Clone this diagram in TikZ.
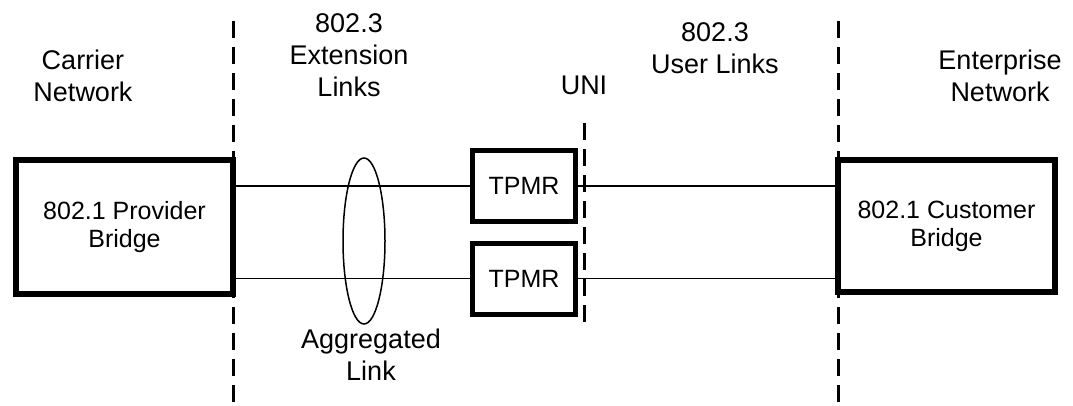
\documentclass[tikz,border=0pt]{standalone}
\usepackage{fontspec}
\setmainfont{Liberation Sans}
\usetikzlibrary{shapes.geometric}
\begin{document}
\begin{tikzpicture}[x=1pt,y=-1pt,
  bigbox/.style={draw, line width=5.5pt, inner sep=0pt, align=center,
    font=\fontsize{25}{28}\selectfont},
  smallbox/.style={draw, line width=5pt, inner sep=0pt, align=center,
    minimum width=103pt, minimum height=71pt,
    font=\fontsize{25}{28}\selectfont},
  label/.style={inner sep=0pt, outer sep=0pt, align=center, anchor=north,
    font=\fontsize{27}{32}\selectfont},
  link/.style={line width=1.5pt},
  divider/.style={line width=3pt, dash pattern=on 17pt off 9pt},
]
\useasboundingbox (0,0) rectangle (1073,405);

% boxes
\node[bigbox, minimum width=217pt, minimum height=134pt] (lpb) at (124.5,227) {802.1 Provider\\Bridge};
\node[bigbox, minimum width=217pt, minimum height=132pt] (rcb) at (946.5,226) {802.1 Customer\\Bridge};
\node[smallbox] (tp1) at (524,186) {TPMR};
\node[smallbox] (tp2) at (524,278.5) {TPMR};

% links
\draw[link] (tp1.west) -- (tp1.west -| lpb.east);
\draw[link] (tp2.west) -- (tp2.west -| lpb.east);
\draw[link] (tp1.east) -- (tp1.east -| rcb.west);
\draw[link] (tp2.east) -- (tp2.east -| rcb.west);

% aggregated link ellipse
\node[ellipse, draw, line width=1.5pt, inner sep=0pt, minimum width=42pt, minimum height=166pt] (agg) at (364,241) {};

% dividers
\coordinate (d1t) at (233,21);
\coordinate (d1b) at (233,405);
\coordinate (d2t) at (838,21);
\coordinate (d2b) at (838,405);
\coordinate (unit) at (584,123);
\coordinate (unib) at (584,327);
\draw[divider] (d1t) -- (d1b);
\draw[divider] (d2t) -- (d2b);
\draw[divider] (unit) -- (unib);

% labels
\node[label] (carrier) at (83,50) {Carrier\\Network};
\node[label] (ext) at (349,14) {802.3\\Extension\\Links};
\node[label] (uni) at (584,76) {UNI};
\node[label] (user) at (715,23) {802.3\\User Links};
\node[label] (ent) at (1000,50) {Enterprise\\Network};
\node[label] (agglabel) at (371,329) {Aggregated\\Link};
\end{tikzpicture}
\end{document}
